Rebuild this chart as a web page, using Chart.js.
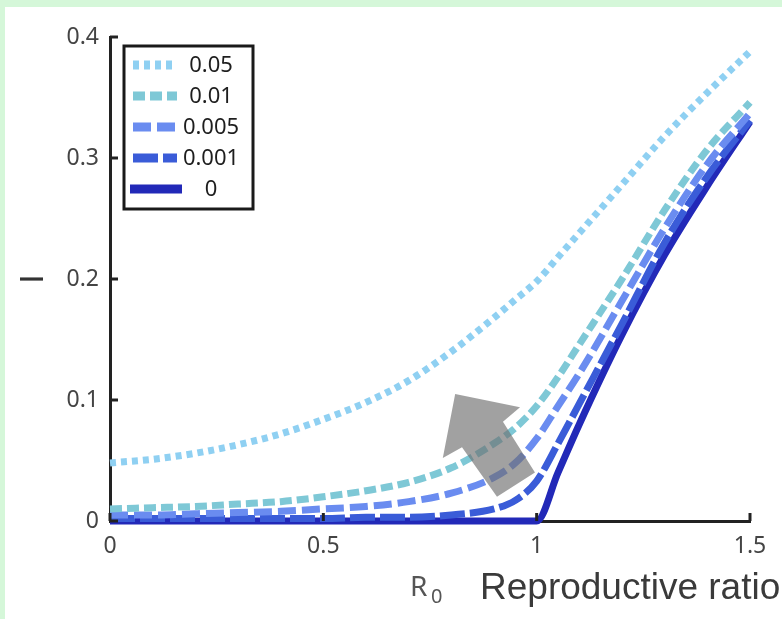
<!DOCTYPE html>
<html>
<head>
<meta charset="utf-8">
<script src="https://cdn.jsdelivr.net/npm/chart.js@4"></script>
<style>
html, body { margin: 0; padding: 0; background: #d5f7d9; overflow: hidden; }
#panel { position: absolute; left: 5px; top: 7px; width: 777px; height: 612px; background: #fff; }
canvas { display: block; }
</style>
</head>
<body>
<div id="panel"><canvas id="c" width="777" height="612"></canvas></div>
<script>
// R0 values (x) and equilibrium I for each import level
var r0     = [0, 0.1, 0.2, 0.3, 0.4, 0.5, 0.6, 0.7, 0.8, 0.9, 0.95, 1.0, 1.05, 1.1, 1.2, 1.3, 1.4, 1.5];
var i_005  = [0.048, 0.051, 0.056, 0.063, 0.072, 0.084, 0.098, 0.116, 0.140, 0.168, 0.183, 0.198, 0.218, 0.238, 0.278, 0.318, 0.354, 0.388];
var i_01   = [0.010, 0.011, 0.012, 0.014, 0.016, 0.020, 0.025, 0.032, 0.044, 0.064, 0.077, 0.095, 0.119, 0.146, 0.200, 0.257, 0.307, 0.346];
var i_0005 = [0.005, 0.005, 0.006, 0.007, 0.008, 0.010, 0.012, 0.016, 0.023, 0.036, 0.048, 0.068, 0.095, 0.122, 0.182, 0.242, 0.295, 0.337];
var i_0001 = [0.002, 0.002, 0.002, 0.002, 0.002, 0.002, 0.003, 0.003, 0.005, 0.010, 0.017, 0.033, 0.064, 0.097, 0.163, 0.230, 0.285, 0.331];
var i_0    = [0, 0, 0, 0, 0, 0, 0, 0, 0, 0, 0, 0, 0.040, 0.080, 0.154, 0.220, 0.277, 0.330];
var seriesNames = ['0.05', '0.01', '0.005', '0.001', '0'];
var xTicks = [0, 0.5, 1, 1.5];
var yTicks = [0, 0.1, 0.2, 0.3, 0.4];

// grey arrow outline, in data units
var arrowX = [0.809, 0.961, 0.921, 0.996, 0.907, 0.825, 0.780];
var arrowY = [0.105, 0.094, 0.082, 0.040, 0.020, 0.061, 0.052];

function pts(arr) {
	return r0.map(function(x, k) { return {x: x, y: arr[k]}; });
}

var colors = ['#8fd0f2', '#7ec8d6', '#6a8cf0', '#3a5cd8', '#2229b8'];
var dashes = [[6, 5], [12, 5], [18, 6], [25, 5], []];
var values = [i_005, i_01, i_0005, i_0001, i_0];

var datasets = [];
for (var k = 0; k < values.length; k++) {
	datasets.push({
		label: seriesNames[k],
		data: pts(values[k]),
		borderColor: colors[k],
		borderDash: dashes[k],
		borderWidth: 7,
		pointRadius: 0,
		fill: false,
		clip: 10,
		cubicInterpolationMode: 'monotone'
	});
}

var extras = {
	id: 'extras',
	afterDatasetsDraw: function(chart) {
		var ctx = chart.ctx, xs = chart.scales.x, ys = chart.scales.y;
		ctx.save();
		ctx.beginPath();
		for (var i = 0; i < arrowX.length; i++) {
			var px = xs.getPixelForValue(arrowX[i]), py = ys.getPixelForValue(arrowY[i]);
			if (i == 0) ctx.moveTo(px, py); else ctx.lineTo(px, py);
		}
		ctx.closePath();
		ctx.fillStyle = 'rgba(110,110,110,0.65)';
		ctx.fill();
		ctx.restore();
	},
	afterDraw: function(chart) {
		var ctx = chart.ctx, xs = chart.scales.x, ys = chart.scales.y;
		var a = chart.chartArea;
		ctx.save();
		// inward tick marks
		ctx.strokeStyle = '#222';
		ctx.lineWidth = 3;
		yTicks.forEach(function(v) {
			var py = ys.getPixelForValue(v);
			ctx.beginPath(); ctx.moveTo(a.left, py); ctx.lineTo(a.left + 8, py); ctx.stroke();
		});
		xTicks.forEach(function(v) {
			var px = xs.getPixelForValue(v);
			ctx.beginPath(); ctx.moveTo(px, a.bottom); ctx.lineTo(px, a.bottom - 8); ctx.stroke();
		});

		// legend box
		ctx.fillStyle = '#fff';
		ctx.fillRect(119, 39, 129, 163);
		ctx.strokeStyle = '#1a1a1a';
		ctx.lineWidth = 3;
		ctx.strokeRect(119, 39, 129, 163);
		ctx.font = '22px "Noto Sans"';
		ctx.textAlign = 'center';
		ctx.textBaseline = 'middle';
		chart.data.datasets.forEach(function(ds, i) {
			var y = 58 + i * 31;
			ctx.beginPath();
			ctx.setLineDash(ds.borderDash);
			ctx.strokeStyle = ds.borderColor;
			ctx.lineWidth = 9;
			if (ds.borderDash.length) { ctx.moveTo(128, y); ctx.lineTo(172, y); }
			else { ctx.moveTo(125, y); ctx.lineTo(177, y); }
			ctx.stroke();
			ctx.setLineDash([]);
			ctx.fillStyle = '#1e1e1e';
			ctx.fillText(ds.label, 206, y + 1);
		});

		// x axis title
		ctx.textAlign = 'left';
		ctx.textBaseline = 'alphabetic';
		ctx.fillStyle = '#555';
		ctx.font = '28px "Noto Sans"';
		ctx.fillText('R', 405, 589);
		ctx.font = '20px "Noto Sans"';
		ctx.fillText('0', 426, 596);
		ctx.fillStyle = '#3a3a3a';
		ctx.font = '37px "Liberation Sans"';
		ctx.fillText('Reproductive ratio', 475, 592);
		ctx.restore();
	}
};

var tickFont = {family: 'Noto Sans', size: 23};

var chart = new Chart(document.getElementById('c'), {
	type: 'line',
	data: { datasets: datasets },
	options: {
		responsive: false,
		animation: false,
		layout: { padding: { top: 30, right: 32, left: 0, bottom: 0 } },
		plugins: { legend: { display: false }, tooltip: { enabled: false } },
		scales: {
			x: {
				type: 'linear', min: 0, max: 1.5,
				ticks: { stepSize: 0.5, padding: 12, color: '#444', font: tickFont,
					callback: function(v) { return String(v); } },
				grid: { display: false, drawTicks: false },
				border: { color: '#222', width: 3 },
				afterFit: function(s) { s.height = 98; }
			},
			y: {
				min: 0, max: 0.4,
				ticks: { stepSize: 0.1, padding: 11, color: '#444', font: tickFont,
					callback: function(v) { return String(Math.round(v * 10) / 10); } },
				grid: { display: false, drawTicks: false },
				border: { color: '#222', width: 3 },
				title: { display: true, text: 'I', color: '#333', font: { family: 'Liberation Sans', size: 34 }, padding: { top: 8, bottom: 0 } },
				afterFit: function(s) { s.width = 105; }
			}
		}
	},
	plugins: [extras]
});
</script>
</body>
</html>
